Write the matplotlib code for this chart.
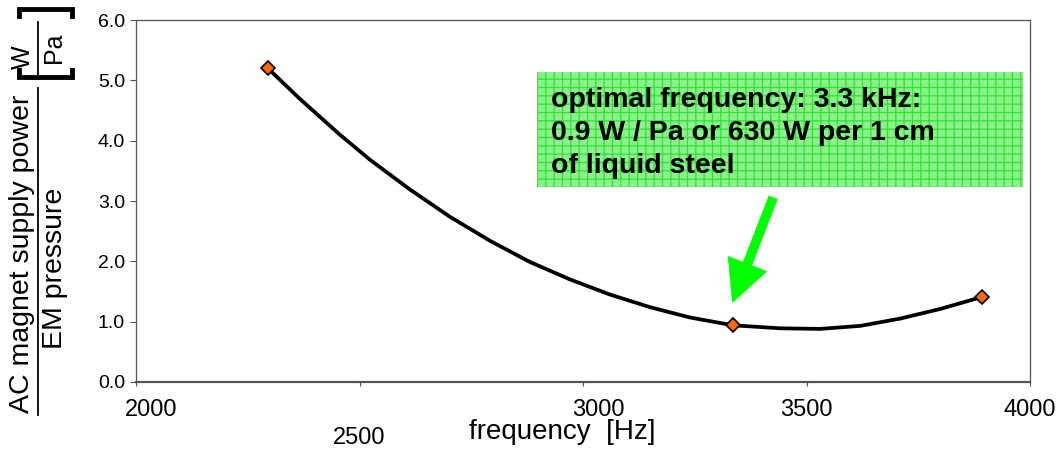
"""Power-to-pressure ratio of the AC magnet versus supply frequency."""
import matplotlib
matplotlib.use("Agg")
import matplotlib.pyplot as plt
import matplotlib.transforms as mtransforms
from matplotlib.patches import Rectangle
from matplotlib.lines import Line2D

plt.rcParams["font.family"] = ["Liberation Sans", "DejaVu Sans"]
plt.rcParams["hatch.linewidth"] = 0.9

# computed operating points [Hz], [W/Pa]
freq_pts = [2295, 3335, 3893]
ratio_pts = [5.20, 0.94, 1.41]

# fitted curve through the operating points
freq_curve = [2295, 2367, 2456, 2524, 2613, 2702, 2792, 2881, 2971, 3060,
              3150, 3239, 3335, 3441, 3530, 3620, 3709, 3799, 3893]
ratio_curve = [5.20, 4.69, 4.10, 3.68, 3.19, 2.74, 2.34, 1.99, 1.70, 1.45,
               1.24, 1.07, 0.94, 0.89, 0.88, 0.93, 1.05, 1.21, 1.41]

x_ticks = [2000, 2500, 3000, 3500, 4000]
y_ticks = [0, 1, 2, 3, 4, 5, 6]

note = "optimal frequency: 3.3 kHz:\n0.9 W / Pa or 630 W per 1 cm\nof liquid steel"

W, H = 1061, 450
fig = plt.figure(figsize=(W / 100, H / 100), dpi=100)
ax = fig.add_axes([136 / W, 1 - 382 / H, 894 / W, 362 / H])

ax.plot(freq_curve, ratio_curve, color="black", lw=2.7, zorder=3,
        solid_capstyle="round", solid_joinstyle="round")
ax.plot(freq_pts, ratio_pts, ls="none", marker="D", ms=7.5,
        mfc="#ff6a00", mec="black", mew=1.2, zorder=4)

ax.set_xlim(2000, 4000)
ax.set_ylim(0, 6)
ax.set_xticks(x_ticks)
ax.set_xticklabels([str(v) for v in x_ticks], fontsize=17)
ax.set_yticks(y_ticks)
ax.set_yticklabels([f"{v:.1f}" for v in y_ticks], fontsize=14)
ax.tick_params(axis="x", direction="out", length=3, width=0.8, pad=9,
               color="#555555")
ax.tick_params(axis="y", direction="out", length=4, width=0.8, pad=4,
               color="#555555")
for side, sp in ax.spines.items():
    sp.set_color("#555555")
    sp.set_linewidth(1.6 if side == "bottom" else 0.9)

# nudge tick labels the way the original layout had them
shifts = {2000: (0.15, 0), 3000: (0.15, 0), 2500: (0, -0.28)}
for val, lab in zip(x_ticks, ax.get_xticklabels()):
    if val in shifts:
        dx, dy = shifts[val]
        lab.set_transform(lab.get_transform()
                          + mtransforms.ScaledTranslation(dx, dy, fig.dpi_scale_trans))

ax.set_xlabel("frequency  [Hz]", fontsize=20, va="center")
ax.xaxis.set_label_coords(0.4765, -0.138)

# annotation box with grid pattern
box = Rectangle((2897, 3.23), 1087, 1.91, facecolor="#8cf08c",
                edgecolor="#30e430", hatch="++", lw=0, zorder=2)
ax.add_patch(box)
ax.text(2928, 4.89, note, fontsize=20.5, fontweight="bold", ha="left",
        va="top", linespacing=1.34, zorder=3)
ax.annotate("", xy=(3335, 1.33), xytext=(3425, 3.05),
            arrowprops=dict(arrowstyle="simple,head_length=1.45,head_width=1.45,tail_width=0.3",
                            color="#00ff00", shrinkA=0, shrinkB=0,
                            mutation_scale=20))

# y-axis label drawn as a fraction with units, in pixel coordinates
lab = fig.add_axes([0, 0, 1, 1], zorder=5)
lab.set_xlim(0, W)
lab.set_ylim(H, 0)
lab.axis("off")
lab.patch.set_visible(False)

lab.text(22, 254, "AC magnet supply power", rotation=90, fontsize=20.5,
         ha="center", va="center")
lab.text(55, 268, "EM pressure", rotation=90, fontsize=20.5,
         ha="center", va="center")
lab.add_line(Line2D([38, 38], [88, 415], color="black", lw=1.3))

lab.text(23, 57, "W", rotation=90, fontsize=18, ha="center", va="center")
lab.text(54, 48, "Pa", rotation=90, fontsize=18, ha="center", va="center")
lab.add_line(Line2D([38, 38], [22, 75], color="black", lw=1.3))
# square brackets around the unit
lab.add_line(Line2D([19, 19, 72, 72], [70, 77, 77, 70], color="black", lw=3.5,
                    solid_joinstyle="miter"))
lab.add_line(Line2D([19, 19, 72, 72], [16, 9, 9, 16], color="black", lw=3.5,
                    solid_joinstyle="miter"))

fig.savefig("out.png", dpi=100, facecolor="white")
